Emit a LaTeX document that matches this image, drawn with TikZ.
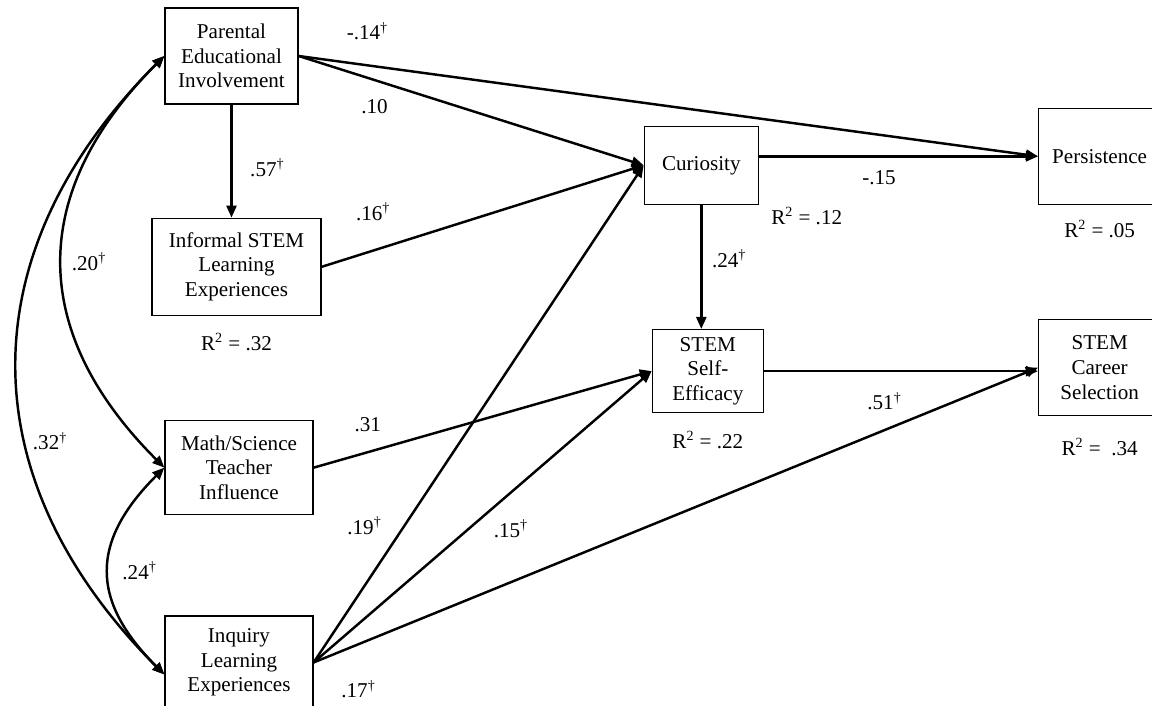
\documentclass[tikz,border=0pt]{standalone}
\usepackage{fontspec}
\setmainfont{Liberation Serif}
\usetikzlibrary{arrows.meta,positioning}
\newcommand{\sigmark}{\textsuperscript{\dag}}

\begin{document}
\begin{tikzpicture}[
    box/.style={
        draw,
        line width=0.75pt,
        minimum height=1.92cm,
        inner sep=2pt,
        align=center
    },
    rsq/.style={inner sep=0pt},
    lbl/.style={inner sep=0pt},
    flow/.style={line width=1.4pt,-{Triangle[length=2.4mm,width=2mm]}},
    corr/.style={line width=1.4pt,{Triangle[length=2.4mm,width=2mm]}-{Triangle[length=2.4mm,width=2mm]}},
    every node/.style={font=\fontsize{12}{14}\selectfont}
]
    \useasboundingbox (-4.63,1.12) rectangle (18.41,-13.0);

    \node[box, minimum width=2.66cm] (parental) {Parental\\Educational\\Involvement};
    \node[box, minimum width=3.38cm, minimum height=1.94cm, below=2.26cm of parental, xshift=0.1cm] (informal) {Informal STEM\\Learning\\Experiences};
    \node[box, minimum width=2.96cm, minimum height=1.88cm, below=2.08cm of informal, xshift=0.05cm] (math) {Math/Science\\Teacher\\Influence};
    \node[box, minimum width=2.96cm, minimum height=1.86cm, below=2.0cm of math] (inquiry) {Inquiry\\Learning\\Experiences};

    \node[box, minimum width=2.28cm, minimum height=1.56cm, below right=0.42cm and 6.9cm of parental] (curiosity) {Curiosity};
    \node[box, minimum width=2.22cm, minimum height=1.66cm, below=2.48cm of curiosity, xshift=0.13cm] (efficacy) {STEM\\Self-\\Efficacy};
    \node[box, minimum width=2.44cm, right=5.58cm of curiosity, yshift=0.18cm] (persistence) {Persistence};
    \node[box, minimum width=2.44cm, below=2.28cm of persistence] (career) {STEM\\Career\\Selection};

    \node[rsq, below=0.34cm of informal] (r2-informal) {R\textsuperscript{2} = .32};
    \node[rsq, below right=0.04cm and 0.24cm of curiosity] (r2-curiosity) {R\textsuperscript{2} = .12};
    \node[rsq, below=0.36cm of efficacy] (r2-efficacy) {R\textsuperscript{2} = .22};
    \node[rsq, below=0.3cm of persistence] (r2-persistence) {R\textsuperscript{2} = .05};
    \node[rsq, below=0.44cm of career] (r2-career) {R\textsuperscript{2} = \ .34};

    % paths
    \draw[flow] (parental.south) -- node[lbl, pos=0.56, right=0.35cm] {.57\sigmark} (parental.south |- informal.north);
    \draw[flow] (parental.east) -- node[lbl, pos=0.22, below=0.37cm] {.10} (curiosity.west);
    \draw[flow] (parental.east) -- node[lbl, pos=0.093, above=0.48cm] {-.14\sigmark} (persistence.west);
    \draw[flow] (informal.east) -- node[lbl, pos=0.16, above=0.57cm] {.16\sigmark} (curiosity.west);
    \draw[flow] (math.east) -- node[lbl, pos=0.16, above=0.39cm] {.31} (efficacy.west);
    \draw[flow] (inquiry.east) -- node[lbl, pos=0.275, left=0.43cm] {.19\sigmark} (curiosity.west);
    \draw[flow] (inquiry.east) -- node[lbl, pos=0.46, right=0.47cm] {.15\sigmark} (efficacy.west);
    \draw[flow] (inquiry.east) -- node[lbl, pos=0.062, below=0.7cm] {.17\sigmark} (career.west);
    \draw[flow] (curiosity.south) -- node[lbl, pos=0.435, right=0.19cm] {.24\sigmark} (curiosity.south |- efficacy.north);
    \draw[flow] (curiosity.east |- persistence.west) -- node[lbl, pos=0.43, below=0.26cm] {-.15} (persistence.west);
    \draw[flow] (efficacy.east) -- node[lbl, pos=0.44, below=0.4cm] {.51\sigmark} (efficacy.east -| career.west);

    % correlations
    \draw[corr] (parental.west) to[out=225, in=135, looseness=1.2] node[lbl, pos=0.5, right=0.17cm] {.20\sigmark} (math.west);
    \draw[corr] (parental.west) to[out=225, in=135, looseness=1.15] node[lbl, pos=0.62, right=0.12cm] {.32\sigmark} ([yshift=-0.24cm]inquiry.west);
    \draw[corr] (math.west) to[out=225, in=135, looseness=1.3] node[lbl, pos=0.5, right=0.25cm] {.24\sigmark} ([yshift=-0.24cm]inquiry.west);
\end{tikzpicture}
\end{document}
